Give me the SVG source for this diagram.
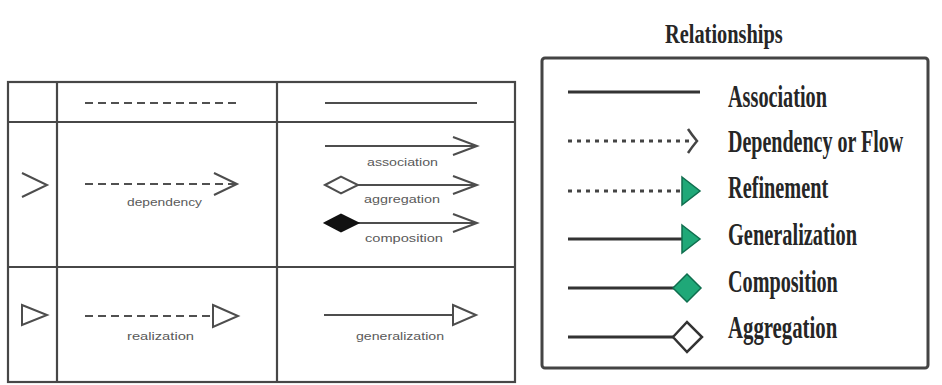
<svg xmlns="http://www.w3.org/2000/svg" width="942" height="385" viewBox="0 0 942 385">
  <style>
    .grid { stroke: #474747; stroke-width: 2.2; fill: none; }
    .ln { stroke: #4d4d4d; stroke-width: 2; fill: none; }
    .dash { stroke: #505050; stroke-width: 2; fill: none; stroke-dasharray: 8 5; }
    .open { stroke: #4d4d4d; stroke-width: 2; fill: none; stroke-linejoin: miter; }
    .hollow { stroke: #4d4d4d; stroke-width: 2; fill: #ffffff; }
    .solid { stroke: #111111; stroke-width: 2; fill: #111111; }
    .small { font-family: "Liberation Sans", Arial, sans-serif; font-size: 11px; fill: #5a5a5a; }
    .rl { stroke: #333333; stroke-width: 3; fill: none; }
    .rdot { stroke: #444444; stroke-width: 3; fill: none; stroke-dasharray: 4 5; }
    .green { fill: #1fa878; stroke: #0f6e4e; stroke-width: 1.5; }
    .white { fill: #ffffff; stroke: #333333; stroke-width: 2.5; }
    .lab { font-family: "Liberation Serif", "Times New Roman", serif; font-size: 32px; font-weight: bold; fill: #262626; }
    .title { font-family: "Liberation Serif", "Times New Roman", serif; font-size: 27px; font-weight: bold; fill: #262626; }
  </style>

  <rect width="942" height="385" fill="#ffffff"/>

  <!-- Notation table -->
  <g id="table">
    <rect class="grid" x="8" y="82" width="507" height="300"/>
    <line class="grid" x1="8" y1="122" x2="515" y2="122"/>
    <line class="grid" x1="8" y1="267" x2="515" y2="267"/>
    <line class="grid" x1="57" y1="82" x2="57" y2="382"/>
    <line class="grid" x1="277" y1="82" x2="277" y2="382"/>
  </g>

  <!-- Header row: dashed and solid line styles -->
  <g id="header-dashed">
    <line class="dash" x1="85" y1="103" x2="237" y2="103"/>
  </g>
  <g id="header-solid">
    <line class="ln" x1="325" y1="103" x2="477" y2="103"/>
  </g>

  <!-- Open arrowhead row -->
  <g id="open-head">
    <polyline class="open" points="22,173 47,185 22,197"/>
  </g>
  <g id="dependency">
    <line class="dash" x1="85" y1="184" x2="235" y2="184"/>
    <polyline class="open" points="214,173 237,184 214,195"/>
    <text class="small" x="127" y="206" textLength="75" lengthAdjust="spacingAndGlyphs">dependency</text>
  </g>
  <g id="association">
    <line class="ln" x1="325" y1="146" x2="476" y2="146"/>
    <polyline class="open" points="453,137 477,146 453,155"/>
    <text class="small" x="367" y="166" textLength="71" lengthAdjust="spacingAndGlyphs">association</text>
  </g>
  <g id="aggregation">
    <line class="ln" x1="358" y1="185" x2="476" y2="185"/>
    <polygon class="hollow" points="325,185 341,176.5 358,185 341,193.5"/>
    <polyline class="open" points="453,176 477,185 453,194"/>
    <text class="small" x="364" y="203" textLength="76" lengthAdjust="spacingAndGlyphs">aggregation</text>
  </g>
  <g id="composition">
    <line class="ln" x1="358" y1="223" x2="476" y2="223"/>
    <polygon class="solid" points="325,223 341,214.5 358,223 341,231.5"/>
    <polyline class="open" points="453,214 477,223 453,232"/>
    <text class="small" x="365" y="242" textLength="78" lengthAdjust="spacingAndGlyphs">composition</text>
  </g>

  <!-- Hollow triangle row -->
  <g id="triangle-head">
    <polygon class="hollow" points="22,305 47,315 22,325"/>
  </g>
  <g id="realization">
    <line class="dash" x1="85" y1="316" x2="213" y2="316"/>
    <polygon class="hollow" points="213,305 238,316 213,327"/>
    <text class="small" x="127" y="340" textLength="67" lengthAdjust="spacingAndGlyphs">realization</text>
  </g>
  <g id="generalization">
    <line class="ln" x1="324" y1="315" x2="453" y2="315"/>
    <polygon class="hollow" points="453,305 476,315 453,325"/>
    <text class="small" x="356" y="340" textLength="88" lengthAdjust="spacingAndGlyphs">generalization</text>
  </g>

  <!-- Relationships legend (labels are narrowed horizontally) -->
  <g id="legend">
    <text class="title" transform="translate(665,43) scale(0.75,1)" textLength="157" lengthAdjust="spacingAndGlyphs">Relationships</text>
    <rect x="542" y="58" width="386" height="310" rx="3" fill="none" stroke="#444444" stroke-width="3"/>
  </g>

  <g id="leg-association">
    <line class="rl" x1="568" y1="92" x2="700" y2="92"/>
    <text class="lab" transform="translate(728,107) scale(0.6,1)" textLength="165" lengthAdjust="spacingAndGlyphs">Association</text>
  </g>
  <g id="leg-dependency">
    <line class="rdot" x1="568" y1="141" x2="690" y2="141"/>
    <path d="M688,129 Q692,135 697,141 Q692,147 688,153" fill="none" stroke="#444444" stroke-width="2.5"/>
    <text class="lab" transform="translate(728,152) scale(0.6,1)" textLength="292" lengthAdjust="spacingAndGlyphs">Dependency or Flow</text>
  </g>
  <g id="leg-refinement">
    <line class="rdot" x1="568" y1="191" x2="682" y2="191"/>
    <polygon class="green" points="682,177 700,191 682,205"/>
    <text class="lab" transform="translate(728,198) scale(0.6,1)" textLength="167" lengthAdjust="spacingAndGlyphs">Refinement</text>
  </g>
  <g id="leg-generalization">
    <line class="rl" x1="568" y1="239" x2="682" y2="239"/>
    <polygon class="green" points="682,225 700,239 682,253"/>
    <text class="lab" transform="translate(728,245) scale(0.6,1)" textLength="215" lengthAdjust="spacingAndGlyphs">Generalization</text>
  </g>
  <g id="leg-composition">
    <line class="rl" x1="568" y1="288" x2="674" y2="288"/>
    <polygon class="green" points="673,288 687,274 701,288 687,302"/>
    <text class="lab" transform="translate(728,292) scale(0.6,1)" textLength="183" lengthAdjust="spacingAndGlyphs">Composition</text>
  </g>
  <g id="leg-aggregation">
    <line class="rl" x1="568" y1="337" x2="673" y2="337"/>
    <polygon class="white" points="673,337 687,322 702,337 687,352"/>
    <text class="lab" transform="translate(728,338) scale(0.6,1)" textLength="182" lengthAdjust="spacingAndGlyphs">Aggregation</text>
  </g>
</svg>
